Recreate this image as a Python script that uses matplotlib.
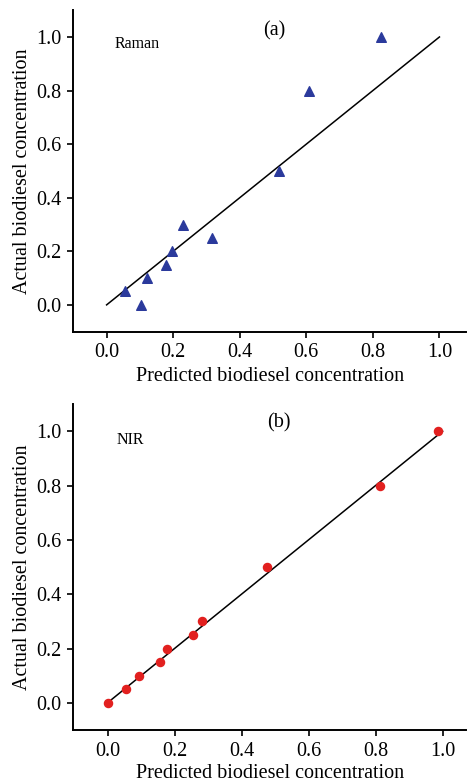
import matplotlib
matplotlib.use('Agg')
import matplotlib.pyplot as plt

# Raman (a)
raman_pred = [0.055, 0.102, 0.12, 0.178, 0.195, 0.23, 0.316, 0.519, 0.609, 0.824]
raman_actual = [0.05, 0.0, 0.10, 0.15, 0.20, 0.30, 0.25, 0.50, 0.80, 1.0]

# NIR (b)
nir_pred = [0.0, 0.055, 0.095, 0.157, 0.178, 0.256, 0.281, 0.477, 0.813, 0.987]
nir_actual = [0.0, 0.05, 0.10, 0.15, 0.20, 0.25, 0.30, 0.50, 0.80, 1.0]

ticks = [0.0, 0.2, 0.4, 0.6, 0.8, 1.0]
tick_labels = ["0.0", "0.2", "0.4", "0.6", "0.8", "1.0"]

plt.rcParams['font.family'] = ['Liberation Serif', 'DejaVu Serif']

fig = plt.figure(figsize=(4.67, 7.83), dpi=100)
ax_a = fig.add_axes([0.157, 0.5764, 0.841, 0.4106])
ax_b = fig.add_axes([0.157, 0.0677, 0.841, 0.4163])


def style_axes(ax, xlim, xpad):
    ax.set_xlim(*xlim)
    ax.set_ylim(-0.1, 1.1)
    ax.spines['top'].set_visible(False)
    ax.spines['right'].set_visible(False)
    ax.spines['left'].set_linewidth(1.4)
    ax.spines['bottom'].set_linewidth(1.4)
    ax.set_xticks(ticks)
    ax.set_xticklabels(tick_labels)
    ax.set_yticks(ticks)
    ax.set_yticklabels(tick_labels)
    ax.tick_params(direction='out', length=4.5, width=1.2, labelsize=14.5, pad=4)
    ax.set_xlabel('Predicted biodiesel concentration', fontsize=14.5, labelpad=xpad)
    ax.set_ylabel('Actual biodiesel concentration', fontsize=14.5, labelpad=3)


# (a) Raman
ax_a.plot([0, 1], [0, 1], color='black', linewidth=1.1)
ax_a.scatter(raman_pred, raman_actual, marker='^', s=48, color='#2b3a9c', zorder=3)
ax_a.text(0.503, 1.022, '(a)', fontsize=14.5, ha='center', va='center')
ax_a.text(0.025, 0.975, 'Raman', fontsize=11.5, ha='left', va='center')
style_axes(ax_a, (-0.1, 1.08), 3)

# (b) NIR
ax_b.plot([0, 1], [0, 1], color='black', linewidth=1.1)
ax_b.scatter(nir_pred, nir_actual, marker='o', s=34, color='#e2201f', zorder=3)
ax_b.text(0.51, 1.03, '(b)', fontsize=14.5, ha='center', va='center')
ax_b.text(0.026, 0.969, 'NIR', fontsize=11.5, ha='left', va='center')
style_axes(ax_b, (-0.102, 1.07), 2.5)

fig.savefig('out.png', dpi=100)
